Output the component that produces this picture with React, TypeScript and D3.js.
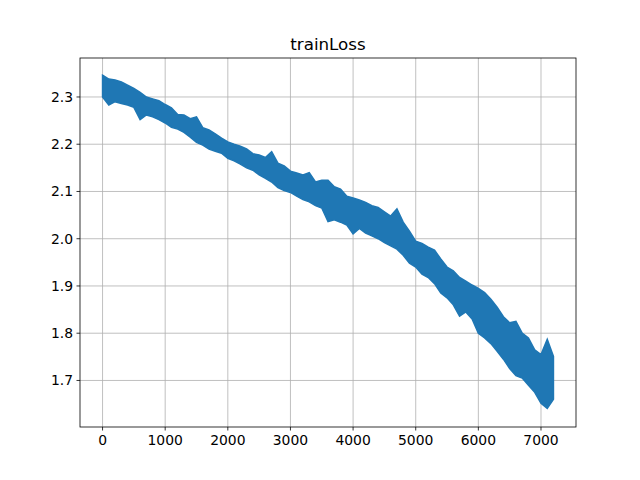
import React from "react";
import * as d3 from "d3";

const steps = [
  0, 100, 200, 300, 400, 500, 600, 700, 800, 900,
  1000, 1100, 1200, 1300, 1400, 1500, 1600, 1700, 1800, 1900,
  2000, 2100, 2200, 2300, 2400, 2500, 2600, 2700, 2800, 2900,
  3000, 3100, 3200, 3300, 3400, 3500, 3600, 3700, 3800, 3900,
  4000, 4100, 4200, 4300, 4400, 4500, 4600, 4700, 4800, 4900,
  5000, 5100, 5200, 5300, 5400, 5500, 5600, 5700, 5800, 5900,
  6000, 6100, 6200, 6300, 6400, 6500, 6600, 6700, 6800, 6900,
  7000, 7100, 7199,
];

// upper envelope of the noisy loss curve at each step
const lossHigh = [
  2.346, 2.338, 2.336, 2.332, 2.325, 2.318, 2.31, 2.3, 2.296, 2.292,
  2.284, 2.277, 2.263, 2.262, 2.254, 2.258, 2.235, 2.23, 2.222, 2.213,
  2.205, 2.2, 2.196, 2.19, 2.18, 2.177, 2.172, 2.184, 2.16, 2.154,
  2.143, 2.139, 2.135, 2.14, 2.12, 2.124, 2.124, 2.11, 2.105, 2.09,
  2.086, 2.082, 2.077, 2.07, 2.066, 2.057, 2.048, 2.063, 2.035, 2.016,
  1.995, 1.99, 1.982, 1.976, 1.957, 1.94, 1.932, 1.918, 1.91, 1.902,
  1.895, 1.886, 1.872, 1.855, 1.835, 1.822, 1.825, 1.8, 1.79, 1.765,
  1.755, 1.787, 1.751,
];

// lower envelope of the noisy loss curve at each step
const lossLow = [
  2.3, 2.283, 2.29, 2.286, 2.283, 2.278, 2.252, 2.262, 2.258, 2.252,
  2.245, 2.236, 2.232, 2.225, 2.215, 2.204, 2.198, 2.19, 2.185, 2.181,
  2.17, 2.165, 2.158, 2.15, 2.145, 2.135, 2.128, 2.12, 2.108, 2.102,
  2.098, 2.09, 2.083, 2.078, 2.07, 2.065, 2.036, 2.04, 2.035, 2.029,
  2.01, 2.022, 2.012, 2.006, 2.0, 1.992, 1.985, 1.978, 1.965, 1.948,
  1.94, 1.925, 1.918, 1.905, 1.885, 1.875, 1.86, 1.836, 1.845, 1.83,
  1.8, 1.79, 1.778, 1.762, 1.745, 1.725, 1.71, 1.705, 1.69, 1.675,
  1.652, 1.641, 1.66,
];

const xTicks = [0, 1000, 2000, 3000, 4000, 5000, 6000, 7000];
const yTicks = [1.7, 1.8, 1.9, 2.0, 2.1, 2.2, 2.3];
const title = "trainLoss";

export default function App() {
  const W = 640, H = 480;
  const L = 80, R = 576, T = 58, B = 427;
  const x = d3.scaleLinear().domain([-360, 7559]).range([L, R]);
  const y = d3.scaleLinear().domain([1.6015, 2.3825]).range([B, T]);
  const data = steps.map((s, i) => ({ s, hi: lossHigh[i], lo: lossLow[i] }));
  const area = d3
    .area<{ s: number; hi: number; lo: number }>()
    .x((d) => x(d.s))
    .y0((d) => y(d.lo))
    .y1((d) => y(d.hi));
  const color = "#1f77b4";
  const font = "DejaVu Sans, sans-serif";
  return (
    <svg
      width={W}
      height={H}
      style={{ position: "absolute", left: 0, top: 0, background: "#fff" }}
    >
      <rect x={0} y={0} width={W} height={H} fill="#fff" />
      {xTicks.map((t) => (
        <line key={"gx" + t} x1={x(t)} x2={x(t)} y1={T} y2={B} stroke="#b0b0b0" strokeWidth={0.8} />
      ))}
      {yTicks.map((t) => (
        <line key={"gy" + t} x1={L} x2={R} y1={y(t)} y2={y(t)} stroke="#b0b0b0" strokeWidth={0.8} />
      ))}
      <path
        d={area(data) || ""}
        fill={color}
        stroke={color}
        strokeWidth={1.5}
        strokeLinejoin="miter"
      />
      <rect x={L} y={T} width={R - L} height={B - T} fill="none" stroke="#000" strokeWidth={0.8} />
      {xTicks.map((t) => (
        <g key={"tx" + t}>
          <line x1={x(t)} x2={x(t)} y1={B} y2={B + 3.5} stroke="#000" strokeWidth={0.8} />
          <text x={x(t)} y={B + 17.5} textAnchor="middle" fontFamily={font} fontSize={13.9} fill="#000">
            {t}
          </text>
        </g>
      ))}
      {yTicks.map((t) => (
        <g key={"ty" + t}>
          <line x1={L - 3.5} x2={L} y1={y(t)} y2={y(t)} stroke="#000" strokeWidth={0.8} />
          <text x={L - 7} y={y(t)} dy="0.35em" textAnchor="end" fontFamily={font} fontSize={13.9} fill="#000">
            {t.toFixed(1)}
          </text>
        </g>
      ))}
      <text x={(L + R) / 2} y={T - 8.3} textAnchor="middle" fontFamily={font} fontSize={16.7} fill="#000">
        {title}
      </text>
    </svg>
  );
}
